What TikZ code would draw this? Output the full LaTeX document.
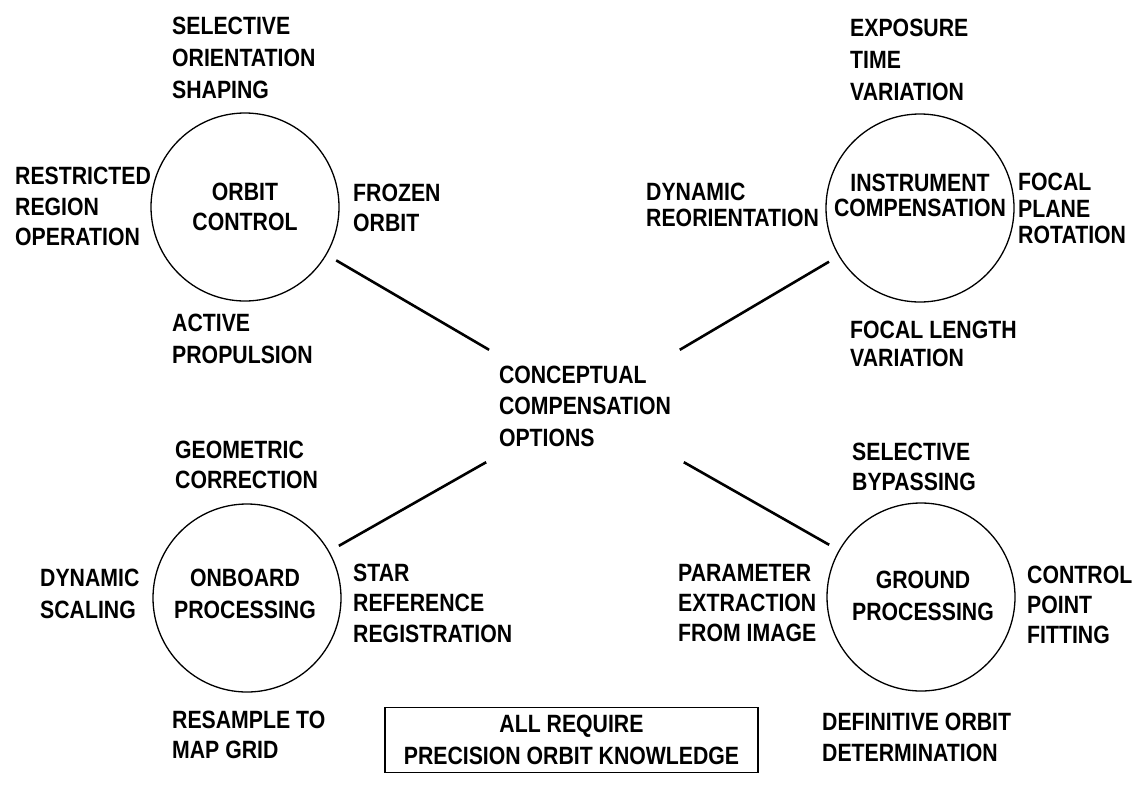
\documentclass[tikz,border=0pt]{standalone}
\usepackage{fontspec}
\setmainfont{Liberation Sans}[FakeStretch=0.85]
\newcommand{\labfont}[1]{\fontsize{25}{#1}\selectfont\bfseries}
\begin{document}
\begin{tikzpicture}[x=1pt,y=-1pt,
  lbl/.style={font=\labfont{31}, align=left, inner sep=0pt, anchor=west},
  ctr/.style={font=\labfont{31}, align=center, inner sep=0pt},
  ring/.style={circle, draw, line width=1.3pt, minimum size=188pt, inner sep=0pt},
  spoke/.style={line width=2.6pt, shorten <=11pt}]
\useasboundingbox (0,0) rectangle (1142,787);

% ---- circles ----
\node[ring] (orbit) at (245,207) {};
\node[ring] (instr) at (920,208) {};
\node[ring] (onboard) at (247,598) {};
\node[ring] (ground) at (921,597) {};

\node[ctr, font=\labfont{30}] (orbitT) at (245,207) {ORBIT\\CONTROL};
\node[ctr, font=\labfont{25}] (instrT) at (920,195.5) {INSTRUMENT\\COMPENSATION};
\node[ctr, font=\labfont{32}] (onboardT) at (245,594) {ONBOARD\\PROCESSING};
\node[ctr, font=\labfont{32}] (groundT) at (923,596) {GROUND\\PROCESSING};

% ---- centre ----
\node[font=\labfont{31.5}, align=left, inner sep=0pt, minimum width=212pt, minimum height=112pt] (concept) at (585,406) {CONCEPTUAL\\COMPENSATION\\OPTIONS};

\draw[spoke] (orbit) -- (concept);
\draw[spoke] (instr) -- (concept);
\draw[spoke] (onboard) -- (concept);
\draw[spoke] (ground) -- (concept);

% ---- orbit control labels ----
\node[lbl, font=\labfont{32}] (o1) at (172,57.5) {SELECTIVE\\ORIENTATION\\SHAPING};
\node[lbl, font=\labfont{30.5}] (o2) at (15,206.5) {RESTRICTED\\REGION\\OPERATION};
\node[lbl, font=\labfont{30}] (o3) at (353,208) {FROZEN\\ORBIT};
\node[lbl, font=\labfont{32}] (o4) at (172,339) {ACTIVE\\PROPULSION};

% ---- instrument compensation labels ----
\node[lbl, font=\labfont{32}] (i1) at (850,60) {EXPOSURE\\TIME\\VARIATION};
\node[lbl, font=\labfont{26}] (i2) at (646,205) {DYNAMIC\\REORIENTATION};
\node[lbl, font=\labfont{26.5}] (i3) at (1018,208.5) {FOCAL\\PLANE\\ROTATION};
\node[lbl, font=\labfont{28}] (i4) at (850,344) {FOCAL LENGTH\\VARIATION};

% ---- onboard processing labels ----
\node[lbl, font=\labfont{30}] (b1) at (175,465) {GEOMETRIC\\CORRECTION};
\node[lbl, font=\labfont{32}] (b2) at (40,594) {DYNAMIC\\SCALING};
\node[lbl, font=\labfont{30.5}] (b3) at (353,603) {STAR\\REFERENCE\\REGISTRATION};
\node[lbl, font=\labfont{30}] (b4) at (172,735) {RESAMPLE TO\\MAP GRID};

% ---- ground processing labels ----
\node[lbl, font=\labfont{30}] (g1) at (852,467) {SELECTIVE\\BYPASSING};
\node[lbl, font=\labfont{30}] (g2) at (678,603) {PARAMETER\\EXTRACTION\\FROM IMAGE};
\node[lbl, font=\labfont{30}] (g3) at (1027,605) {CONTROL\\POINT\\FITTING};
\node[lbl, font=\labfont{31}] (g4) at (822,737) {DEFINITIVE ORBIT\\DETERMINATION};

% ---- note box ----
\node[draw, line width=1.8pt, minimum width=373pt, minimum height=65pt, inner sep=0pt, align=center, font=\labfont{32}] (req) at (571.5,740) {ALL REQUIRE\\PRECISION ORBIT KNOWLEDGE};
\end{tikzpicture}
\end{document}
